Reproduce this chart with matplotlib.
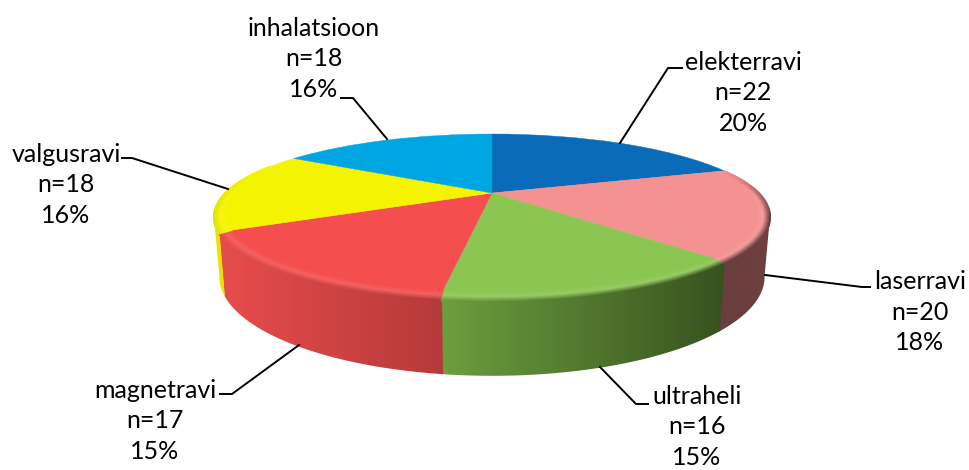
import matplotlib
matplotlib.use("Agg")
import matplotlib.pyplot as plt
import numpy as np
from matplotlib.collections import LineCollection
from matplotlib.colors import LinearSegmentedColormap, to_rgb
from matplotlib.patches import Polygon
from matplotlib.transforms import Transform

# data, clockwise from 12 o'clock
categories = ["elekterravi", "laserravi", "ultraheli", "magnetravi", "valgusravi", "inhalatsioon"]
counts = [22, 20, 16, 17, 18, 18]
percents = [20, 18, 15, 15, 16, 16]
top_colors = ["#0a6bb8", "#f49191", "#8bc652", "#f44e4e", "#f4f400", "#00a6e2"]
side_left = ["#07508a", "#6a3e3e", "#6c9f3e", "#e84c4c", "#e6e600", "#007fae"]
side_right = ["#07508a", "#6e4040", "#38521f", "#b63a3a", "#e6e600", "#007fae"]
label_xy = [(743, 91), (920, 310), (697, 425), (155, 419), (66, 183), (314, 57)]
leaders = [
    [(620, 143), (668, 68), (682, 68)],
    [(765, 275), (862, 287), (870, 287)],
    [(600, 367), (636, 404), (648, 404)],
    [(299, 345), (232, 394), (220, 394)],
    [(228, 189), (132, 158), (122, 158)],
    [(387, 139), (353, 98), (341, 98)],
]

# perspective of the pie disc, in pixels
CX, CY = 492, 193
TILT, SQUASH, WIDE = 0.2805, -21.4, 267
DEPTH = 56
BOTTOM_SHRINK = 0.98
RIM_FROM, RIM_TO = np.radians(72), np.radians(292)


class Perspective(Transform):
    input_dims = 2
    output_dims = 2

    def transform_non_affine(self, xy):
        xy = np.asarray(xy, dtype=float)
        u, v = xy[:, 0], xy[:, 1]
        den = 1 + TILT * v
        return np.column_stack([CX + WIDE * u / den, (SQUASH * v + CY) / den])


persp = Perspective()


def disc_points(theta, r=1.0):
    return persp.transform(np.column_stack([r * np.sin(theta), r * np.cos(theta)]))


def bottom_points(theta):
    top = disc_points(theta)
    den = 1 + TILT * np.cos(theta)
    return np.column_stack([CX + (top[:, 0] - CX) * BOTTOM_SHRINK, top[:, 1] + DEPTH / den])


def lerp(c0, c1, t):
    t = np.clip(t, 0, 1)[..., None]
    return np.array(to_rgb(c0)) * (1 - t) + np.array(to_rgb(c1)) * t


fig = plt.figure(figsize=(9.7, 4.7), dpi=100)
ax = fig.add_axes([0, 0, 1, 1])

wedges, _ = ax.pie(counts, colors=top_colors, startangle=90, counterclock=False, radius=1)
for w, c in zip(wedges, top_colors):
    w.set_transform(persp + ax.transData)
    w.set_zorder(3)
    w.set_edgecolor(c)
    w.set_linewidth(0.3)
ax.set_aspect("auto")
ax.set_xlim(0, 970)
ax.set_ylim(470, 0)
ax.axis("off")

edges = np.cumsum([0] + counts) / sum(counts) * 2 * np.pi
SIDE_FROM, SIDE_TO = np.radians(106), np.radians(254)

for i in range(len(counts)):
    t0, t1 = edges[i], edges[i + 1]
    a0, a1 = max(t0, SIDE_FROM), min(t1, SIDE_TO)
    x_span = None
    if a1 > a0:
        # little overlap so no white seam shows between the sides
        theta = np.linspace(a0 - 0.006, a1, 80)
        outline = np.vstack([disc_points(theta), bottom_points(theta)[::-1]])
        xmin, xmax = outline[:, 0].min(), outline[:, 0].max()
        x_span = (xmin, xmax)
        cmap = LinearSegmentedColormap.from_list("side", [side_left[i], side_right[i]])
        im = ax.imshow(np.linspace(0, 1, 256)[None, :], cmap=cmap, aspect="auto", zorder=2 + i * 0.01,
                       extent=(xmin, xmax, outline[:, 1].max() + 4, outline[:, 1].min()))
        im.set_clip_path(Polygon(outline, transform=ax.transData))

    # soft bevel around the rim of the top face
    b0, b1 = max(t0, RIM_FROM), min(t1, RIM_TO)
    if b1 <= b0:
        continue
    theta = np.linspace(b0, b1, 90)
    base = np.array(to_rgb(top_colors[i]))
    hi = lerp(top_colors[i], "#ffffff", np.array(0.11))
    fade = np.clip(np.minimum(theta - RIM_FROM, RIM_TO - theta) / np.radians(35), 0, 1)[:, None]
    for r in np.linspace(0.958, 1.0, 14):
        pts = disc_points(theta, r)
        # bevel hangs a little over the front edge
        pts[:, 1] += 4 * np.clip(-np.cos(theta), 0, 1) * (r - 0.958) / 0.042
        s = (r - 0.958) / 0.042
        if x_span:
            dark = lerp(side_left[i], side_right[i], (pts[:, 0] - x_span[0]) / (x_span[1] - x_span[0]))
        else:
            dark = np.tile(to_rgb(side_left[i]), (len(pts), 1))
        if s < 0.5:
            cols = base * (1 - s / 0.5) + hi * s / 0.5
        else:
            k = (s - 0.5) / 0.5
            cols = hi * (1 - k) + dark * k
        cols = base * (1 - fade) + cols * fade
        segs = np.stack([pts[:-1], pts[1:]], axis=1)
        ax.add_collection(LineCollection(segs, colors=np.clip(cols[:-1], 0, 1), linewidths=1.2,
                                         zorder=4, capstyle="round"))

for pts in leaders:
    xs, ys = zip(*pts)
    ax.plot(xs, ys, color="black", lw=1.4, zorder=5, solid_joinstyle="miter")

for cat, n, pct, (x, y) in zip(categories, counts, percents, label_xy):
    ax.text(x, y + 2, f"{cat}\nn={n}\n{pct}%", ha="center", va="center", fontsize=18,
            family="Lato", color="black", linespacing=1.4, zorder=6)

ax.set_xlim(0, 970)
ax.set_ylim(470, 0)
fig.savefig("out.png", dpi=100, facecolor="white")
